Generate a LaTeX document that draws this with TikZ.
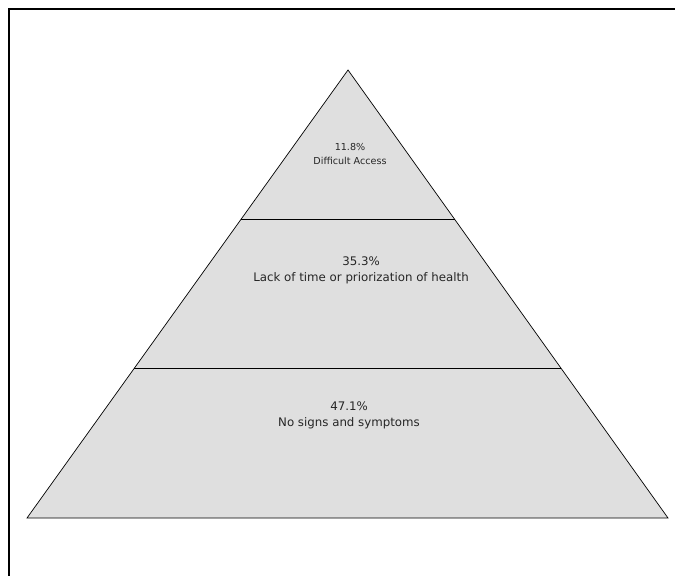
\documentclass[tikz,border=0pt]{standalone}
\usepackage{fontspec}
\setmainfont{DejaVu Sans}
\usetikzlibrary{calc}

\begin{document}
\begin{tikzpicture}[x=1pt, y=-1pt,
    layer/.style={fill=gray!25, draw=black, line width=0.7pt, line join=miter},
    split/.style={draw=black, line width=1.2pt},
    lbl/.style={align=center, text=black!85, inner sep=0pt, font=\fontsize{11.8}{16}\selectfont},
    lblsmall/.style={lbl, font=\fontsize{9.6}{14}\selectfont},
]
\useasboundingbox (0,0) rectangle (675,576);

% outer frame (only top and left edges show)
\draw[line width=2pt] (675,9) -- (9,9) -- (9,576);

% pyramid corners
\coordinate (apex) at (348,70);
\coordinate (baseL) at (27,518);
\coordinate (baseR) at (668,518);

\filldraw[layer] (apex) -- (baseR) -- (baseL) -- cycle;

% layer borders at one and two thirds of the height
\draw[split] ($(apex)!1/3!(baseL)$) -- ($(apex)!1/3!(baseR)$);
\draw[split] ($(apex)!2/3!(baseL)$) -- ($(apex)!2/3!(baseR)$);

% layer labels
\node[lblsmall] (top) at (350,154) {11.8\%\\Difficult Access};
\node[lbl] (mid) at (361,270) {35.3\%\\Lack of time or priorization of health};
\node[lbl] (bot) at (349,415) {47.1\%\\No signs and symptoms};
\end{tikzpicture}
\end{document}
